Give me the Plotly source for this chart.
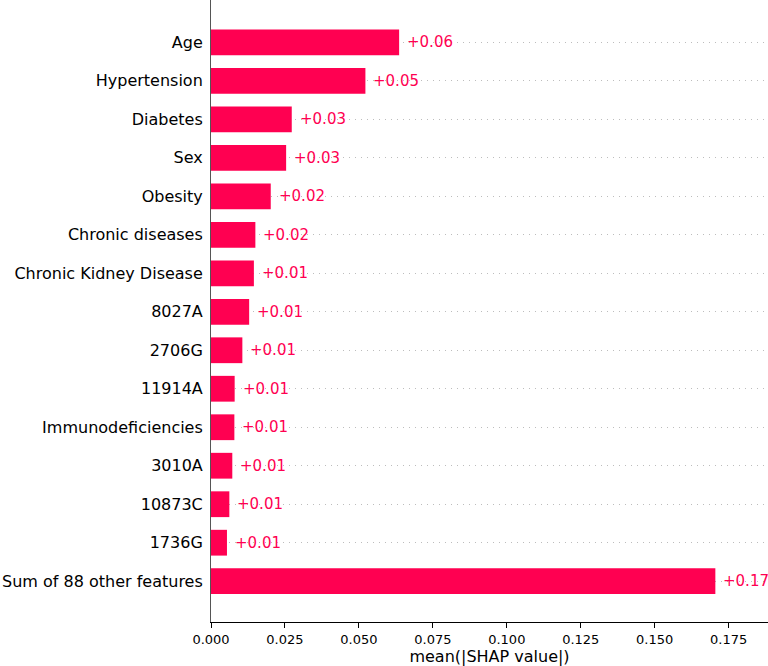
import plotly.graph_objects as go

# features listed top -> bottom as in the SHAP bar plot
features = ["Age", "Hypertension", "Diabetes", "Sex", "Obesity", "Chronic diseases",
            "Chronic Kidney Disease", "8027A", "2706G", "11914A", "Immunodeficiencies",
            "3010A", "10873C", "1736G", "Sum of 88 other features"]
shap_vals = [0.0636, 0.0522, 0.0273, 0.0254, 0.0202, 0.0150,
             0.0145, 0.0129, 0.0106, 0.0080, 0.0079,
             0.0072, 0.0062, 0.0054, 0.1705]
labels = ["+0.06", "+0.05", "+0.03", "+0.03", "+0.02", "+0.02",
          "+0.01", "+0.01", "+0.01", "+0.01", "+0.01",
          "+0.01", "+0.01", "+0.01", "+0.17"]
xticks = [0.0, 0.025, 0.05, 0.075, 0.1, 0.125, 0.15, 0.175]

red = "#ff0051"
font = "DejaVu Sans"

# plotly draws categories bottom -> top, so reverse
feat = features[::-1]
vals = shap_vals[::-1]
labs = labels[::-1]

fig = go.Figure()
fig.add_trace(go.Bar(
    x=vals, y=feat, orientation="h", width=0.67,
    marker=dict(color=red, line=dict(width=0)),
    hoverinfo="skip",
))

for v, f, t in zip(vals, feat, labs):
    fig.add_annotation(x=v, y=f, text=t, showarrow=False, xanchor="left",
                       xshift=6, font=dict(family=font, size=15, color=red))

fig.update_layout(
    width=768, height=666,
    margin=dict(l=211, r=0, t=0, b=44),
    plot_bgcolor="white", paper_bgcolor="white",
    showlegend=False,
    font=dict(family=font, color="black"),
)
fig.update_xaxes(
    range=[0, 0.1883], tickvals=xticks, tickformat=".3f",
    tickfont=dict(size=13), ticks="outside", ticklen=5, tickcolor="black",
    showline=True, linecolor="black", linewidth=1,
    showgrid=False, zeroline=False,
    title=dict(text="mean(|SHAP value|)", font=dict(size=16), standoff=4),
)
fig.update_yaxes(
    type="category", categoryorder="array", categoryarray=feat,
    range=[-1.06, 15.1], tickfont=dict(size=16), ticks="",
    ticklabelstandoff=4,
    showline=True, linecolor="#555555", linewidth=1,
    showgrid=True, gridcolor="#bdbdbd", gridwidth=1, griddash="1px,5px",
    zeroline=False,
)

# drop the default page margin so the figure sits at the window corner
fig.write_html("out.html", config={"displayModeBar": False},
               post_script="document.body.style.margin='0';")
